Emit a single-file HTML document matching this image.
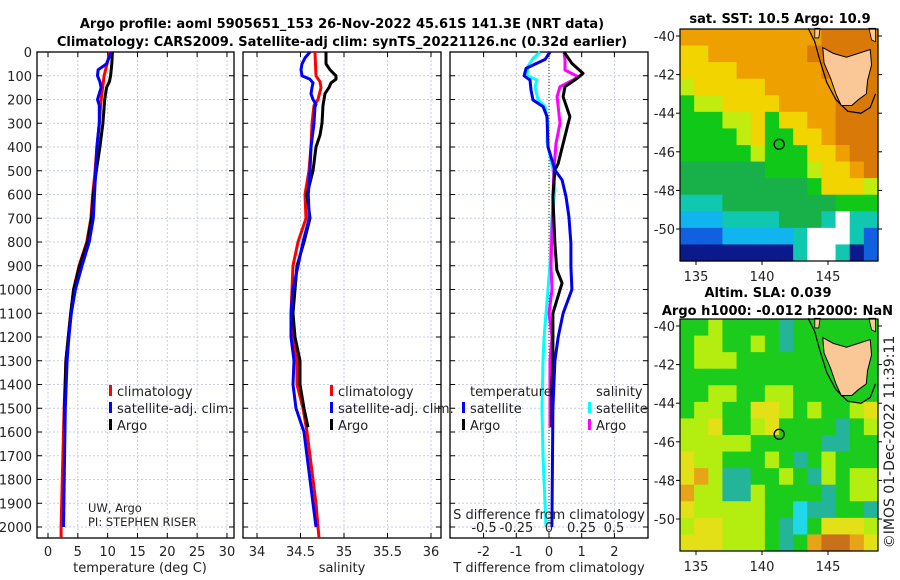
<!DOCTYPE html>
<html><head><meta charset="utf-8"><style>
body{margin:0;background:#fff;}
svg{display:block;font-family:"DejaVu Sans","Liberation Sans",sans-serif;}
.t{font-size:13px;fill:#222;}
.b{font-weight:bold;font-size:13px;fill:#000;}
</style></head><body>
<svg id="s" width="900" height="580" viewBox="0 0 900 580" xmlns="http://www.w3.org/2000/svg">
<text class="b" x="342" y="28" text-anchor="middle">Argo profile: aoml 5905651_153 26-Nov-2022 45.61S 141.3E (NRT data)</text>
<text class="b" x="342" y="46" text-anchor="middle">Climatology: CARS2009. Satellite-adj clim: synTS_20221126.nc (0.32d earlier)</text>
<g id="maps"></g>
<g id="panels"></g>
</svg>
<script>
// ---- temperature panel data ----
const tClimDepth=[0,100,200,300,400,500,600,700,800,900,1000,1100,1200,1300,1400,1500,1600,2000,2046];
const tClimVal=[10.4,9.4,8.9,8.6,8.2,7.9,7.5,7.2,6.5,5.2,4.3,3.8,3.4,3.0,2.85,2.7,2.6,2.2,2.2];
const tSatDepth=[0,50,75,100,125,150,200,225,300,400,500,600,700,800,900,1000,1100,1200,1300,1500,2000];
const tSatVal=[10.6,9.8,8.4,8.3,8.7,8.9,8.3,8.6,8.6,8.2,8.0,7.8,7.6,6.9,5.7,4.6,3.9,3.5,3.2,2.9,2.6];
const tArgoDepth=[0,50,100,125,150,200,300,400,500,600,700,800,900,1000,1100,1200,1300,1400,1500,1580];
const tArgoVal=[10.8,10.7,10.5,10.3,9.8,9.5,9.2,8.7,8.1,7.6,7.3,6.6,5.3,4.3,3.8,3.4,3.0,2.9,2.8,2.75];
// ---- salinity panel data ----
const sClimDepth=[0,100,125,150,200,225,300,400,500,600,700,800,900,1000,1100,1200,1300,1400,1500,1600,1700,1800,1900,2000,2046];
const sClimVal=[34.667,34.678,34.724,34.736,34.701,34.655,34.632,34.621,34.598,34.552,34.563,34.471,34.414,34.402,34.391,34.414,34.46,34.46,34.529,34.575,34.609,34.644,34.678,34.701,34.713];
const sSatDepth=[0,25,50,75,100,115,130,150,175,200,220,230,300,400,500,600,700,800,900,1000,1100,1200,1300,1400,1500,1600,1700,1800,1900,2000];
const sSatVal=[34.609,34.552,34.517,34.506,34.517,34.609,34.644,34.632,34.621,34.644,34.678,34.667,34.655,34.621,34.609,34.59,34.6,34.529,34.471,34.414,34.391,34.391,34.425,34.414,34.448,34.54,34.575,34.609,34.644,34.678];
const sArgoDepth=[0,50,75,100,115,130,150,175,200,225,300,350,400,500,600,700,800,900,1000,1100,1200,1300,1400,1500,1580];
const sArgoVal=[34.793,34.793,34.839,34.908,34.908,34.851,34.828,34.782,34.77,34.759,34.747,34.724,34.678,34.644,34.575,34.609,34.54,34.46,34.437,34.414,34.437,34.494,34.494,34.54,34.586];
// ---- difference panel data ----
const dTSatDepth=[0,31,69,100,118,160,202,230,272,399,497,539,609,693,806,900,1000,1100,1200,1300,1500,2000];
const dTSatVal=[0.03,-0.12,-0.7,-0.76,-0.58,-0.55,-0.49,-0.18,-0.06,-0.03,0.18,0.4,0.52,0.61,0.67,0.67,0.7,0.43,0.28,0.18,0.12,0.09];
const dTArgoDepth=[0,48,90,111,146,188,272,371,469,497,609,806,918,973,1000,1100,1200,1300,1400,1580];
const dTArgoVal=[0.46,0.7,1.04,0.86,0.49,0.43,0.64,0.46,0.28,0.18,0.12,0.18,0.24,0.4,0.34,0.12,0.12,0.12,0.09,0.09];
const dSSatDepth=[0,27,62,100,118,146,202,230,300,378,497,581,693,890,1000,1100,1200,1300,1500,1700,2000];
const dSSatVal=[-0.069,-0.123,-0.162,-0.169,-0.092,-0.108,-0.085,-0.031,-0.008,-0.015,0.031,0.046,0.023,0.008,-0.008,-0.023,-0.038,-0.046,-0.054,-0.046,-0.023];
const dSArgoDepth=[0,34,76,104,118,146,188,300,385,497,609,750,900,1000,1100,1200,1300,1580];
const dSArgoVal=[0.115,0.123,0.123,0.223,0.185,0.085,0.062,0.085,0.054,0.038,0.031,0.023,0.015,0.023,0.0,0.023,0.008,0.008];
// ---- axis tick labels ----
const depthTicks=[0,100,200,300,400,500,600,700,800,900,1000,1100,1200,1300,1400,1500,1600,1700,1800,1900,2000];
const tempTicks=[0,5,10,15,20,25,30];
const salTicks=[34,34.5,35,35.5,36];
const salTickLabels=["34","34.5","35","35.5","36"];
const dTTicks=[-2,-1,0,1,2];
const dSTicks=[-0.5,-0.25,0,0.25,0.5];
const dSTickLabels=["-0.5","-0.25","0","0.25","0.5"];
const latTicks=[-40,-42,-44,-46,-48,-50];
const lonTicks=[135,140,145];
const sstGrid=["ooooooooooOOOO","YYoooooooOOOOO","YYYYooooooOOOO","yYYYYYoooooOOO","GyyYYYYooooOOO","GGGyyYGYYooOOO","GGGGyYGGYYoOOO","GGGGGyGGGYYoOO","ggggggGGGyYYoO","gggggggggGYYYy","TTTggggggggGGG","CCCTTTTgggTWTT","BBBCCCCCTWWWTB","NNNNNNNNTWWTNB"];
const slaGrid=["GGyGGGGTGGGGGG","GyyGGyGTGGGGGG","GyyyGGGGGGGGGG","GGGGGGGGGGGGGG","GGyyGGyyGGGGGG","GyyGGYYyGyGGyY","yyYGGyYGGGGTGy","yyyyyGGGGGTTGG","YyyGGGyGTGyGGG","YOyTTGGyGTyGyy","OyyTTyGGGGTGyy","YyyyyyGGCTTGGT","yYYyyyGTCGYYYy","YYYyyyGTGODDOY"];

const NS="http://www.w3.org/2000/svg";
function mk(tag,attrs,parent,text){const e=document.createElementNS(NS,tag);for(const k in attrs)e.setAttribute(k,attrs[k]);if(text!==undefined)e.textContent=text;parent.appendChild(e);return e;}
const P=document.getElementById('panels');
const top0=52,bot=538;
const yD=d=>top0+d*0.2375;
const xT=v=>48+v*5.965;
const xS=v=>257+(v-34)*87;
const xDT=v=>549+v*32.7;
const xDS=v=>549+v*130;

function panel(x0,x1,name,vgrid){
  const g=mk('g',{},P);
  
  
  depthTicks.forEach(d=>{const y=yD(d);mk('line',{x1:x0,x2:x1,y1:y,y2:y,stroke:'#c8cde8','stroke-width':1,'stroke-dasharray':'2,2'},g);
    mk('line',{x1:x0,x2:x0+5,y1:y,y2:y,stroke:'#000'},g);mk('line',{x1:x1-5,x2:x1,y1:y,y2:y,stroke:'#000'},g);});
  vgrid.forEach(x=>{mk('line',{x1:x,x2:x,y1:top0,y2:bot,stroke:'#c8cde8','stroke-width':1,'stroke-dasharray':'2,2'},g);
    mk('line',{x1:x,x2:x,y1:bot-5,y2:bot,stroke:'#000'},g);mk('line',{x1:x,x2:x,y1:top0,y2:top0+5,stroke:'#000'},g);});
  mk('rect',{x:x0,y:top0,width:x1-x0,height:bot-top0,fill:'none',stroke:'#000','stroke-width':1.3},g);
  return g;
}
function series(g,ds,vs,xf,color,name){
  const pts=ds.map((d,i)=>xf(vs[i]).toFixed(1)+','+yD(d).toFixed(1)).join(' ');
  const e=mk('polyline',{points:pts,fill:'none',stroke:color,'stroke-width':3,'stroke-linejoin':'round'},g);
  
  
}
depthTicks.forEach(d=>{const e=mk('text',{x:32,y:yD(d)+5,'text-anchor':'end',class:'t'},P,String(d));
  
  });
const g1=panel(37,234,'temperature-panel',tempTicks.map(xT));
series(g1,tClimDepth,tClimVal,xT,'#ff0000','temp-climatology-line');
series(g1,tArgoDepth,tArgoVal,xT,'#000000','temp-argo-line');
series(g1,tSatDepth,tSatVal,xT,'#0000ff','temp-satellite-line');
tempTicks.forEach(v=>{const e=mk('text',{x:xT(v),y:556,'text-anchor':'middle',class:'t'},P,String(v));
  
  });
const g2=panel(243,441,'salinity-panel',salTicks.map(xS));
series(g2,sClimDepth,sClimVal,xS,'#ff0000','sal-climatology-line');
series(g2,sArgoDepth,sArgoVal,xS,'#000000','sal-argo-line');
series(g2,sSatDepth,sSatVal,xS,'#0000ff','sal-satellite-line');
salTicks.forEach((v,i)=>{const e=mk('text',{x:xS(v),y:556,'text-anchor':'middle',class:'t'},P,salTickLabels[i]);
  
  });
const g3=panel(450,648,'difference-panel',dTTicks.map(xDT));
mk('line',{x1:xDT(0),x2:xDT(0),y1:top0,y2:bot,stroke:'#555533','stroke-width':1.2,'stroke-dasharray':'1,2'},g3);
series(g3,dSSatDepth,dSSatVal,xDS,'#00ffff','sdiff-satellite-line');
series(g3,dSArgoDepth,dSArgoVal,xDS,'#ff00ff','sdiff-argo-line');
series(g3,dTArgoDepth,dTArgoVal,xDT,'#000000','tdiff-argo-line');
series(g3,dTSatDepth,dTSatVal,xDT,'#0000ee','tdiff-satellite-line');
dTTicks.forEach(v=>{const e=mk('text',{x:xDT(v),y:556,'text-anchor':'middle',class:'t'},P,String(v));
  
  });
dSTicks.forEach((v,i)=>{const e=mk('text',{x:xDS(v),y:532,'text-anchor':'middle',class:'t'},P,dSTickLabels[i]);
  
  });

const M=document.getElementById('maps');
const sstCol={o:'#eea000',O:'#d97a08',Y:'#f2d400',y:'#c0ec10',G:'#10c818',g:'#18b048',T:'#10c8b0',C:'#10b4ee',B:'#1060e0',N:'#0a1a8c',W:'#ffffff'};
const slaCol={G:'#1ccc1c',y:'#b4ee10',Y:'#e4e018',O:'#e8a418',D:'#c8701a',T:'#24b49a',C:'#20d8e8'};
function drawMap(top,grid,cols,name){
  const x0=680,x1=878,y0=top,y1=top+232;
  const lx=lon=>696+(lon-135)*13.2;
  const ly=lat=>(top+7)+(-40-lat)*19.3;
  const g=mk('g',{},M);
  
  
  const cw=(x1-x0)/14,ch=(y1-y0)/14;
  grid.forEach((row,r)=>{for(let c=0;c<14;c++)mk('rect',{x:(x0+c*cw).toFixed(2),y:(y0+r*ch).toFixed(2),width:(cw+0.6).toFixed(2),height:(ch+0.6).toFixed(2),fill:cols[row[c]]},g);});
  const shelf=[[143.5,-39.6],[144.0,-40.3],[144.4,-41.3],[144.9,-42.4],[145.6,-43.3],[146.5,-43.9],[147.5,-44.0],[148.2,-43.7],[148.6,-43.0]];
  mk('polyline',{points:shelf.map(p=>lx(p[0])+','+ly(p[1])).join(' '),fill:'none',stroke:'#000','stroke-width':1.2},g);
  const tas=[[144.6,-40.6],[145.4,-40.9],[146.4,-41.1],[147.3,-40.9],[148.2,-40.7],[148.3,-41.5],[148.0,-42.3],[147.9,-43.0],[147.3,-43.3],[146.8,-43.6],[146.0,-43.6],[145.6,-43.0],[145.2,-42.2],[144.7,-41.4]];
  const land=mk('polygon',{points:tas.map(p=>lx(p[0])+','+ly(p[1])).join(' '),fill:'#fac896',stroke:'#000','stroke-width':1},g);
  
  
  mk('polygon',{points:[[144.0,-39.6],[144.4,-39.6],[144.3,-40.1],[144.0,-40.1]].map(p=>lx(p[0])+','+ly(p[1])).join(' '),fill:'#fac896',stroke:'#000','stroke-width':0.8},g);
  mk('polygon',{points:[[148.1,-39.6],[148.6,-39.6],[148.6,-40.3],[148.3,-40.2]].map(p=>lx(p[0])+','+ly(p[1])).join(' '),fill:'#fac896',stroke:'#000','stroke-width':0.8},g);
  const m=mk('circle',{cx:lx(141.3),cy:ly(-45.61),r:5,fill:'none',stroke:'#000','stroke-width':1.3},g);
  
  
  mk('rect',{x:x0,y:y0,width:x1-x0,height:y1-y0,fill:'none',stroke:'#000','stroke-width':1.2},g);
  latTicks.forEach(v=>{const y=ly(v);mk('line',{x1:x0-4,x2:x0,y1:y,y2:y,stroke:'#000'},g);mk('line',{x1:x1,x2:x1+4,y1:y,y2:y,stroke:'#000'},g);
    const e=mk('text',{x:675,y:y+5,'text-anchor':'end',class:'t'},g,String(v));
    
    });
  lonTicks.forEach(v=>{const x=lx(v);mk('line',{x1:x,x2:x,y1:y1,y2:y1+4,stroke:'#000'},g);
    const e=mk('text',{x:x,y:y1+20,'text-anchor':'middle',class:'t'},g,String(v));
    
    });
}
drawMap(29,sstGrid,sstCol,'sst-map');
drawMap(319,slaGrid,slaCol,'sla-map');
</script>
<script>
(function(){
const s=document.getElementById('s');
const NS="http://www.w3.org/2000/svg";
function t(x,y,str,cls,anchor,name,extra){const e=document.createElementNS(NS,'text');e.setAttribute('x',x);e.setAttribute('y',y);e.setAttribute('class',cls);e.setAttribute('text-anchor',anchor);if(extra)e.setAttribute('transform',extra);e.textContent=str;


s.appendChild(e);return e;}
function bar(x,y,c){const r=document.createElementNS(NS,'rect');r.setAttribute('x',x);r.setAttribute('y',y);r.setAttribute('width',3);r.setAttribute('height',11);r.setAttribute('fill',c);


s.appendChild(r);}
t(780,23,'sat. SST: 10.5 Argo: 10.9','b','middle','sst-map-title');
t(768,297,'Altim. SLA: 0.039','b','middle','sla-map-title');
t(893,315,'Argo h1000: -0.012 h2000: NaN','b','end','argo-height-title');
t(140,572,'temperature (deg C)','t','middle','temp-axis-title');
t(342,572,'salinity','t','middle','sal-axis-title');
t(549,572,'T difference from climatology','t','middle','tdiff-axis-title');
t(549,519,'S difference from climatology','t','middle','sdiff-axis-title');
[['climatology','#f00',396],['satellite-adj. clim.','#00f',413],['Argo','#000',430]].forEach(a=>{bar(109,a[2]-11,a[1]);t(117,a[2],a[0],'t','start','legend-entry');bar(330,a[2]-11,a[1]);t(338,a[2],a[0],'t','start','legend-entry');});
t(470,396,'temperature','t','start','legend-heading-temperature');
bar(462,402,'#00f');t(470,413,'satellite','t','start','legend-entry');
bar(462,419,'#000');t(470,430,'Argo','t','start','legend-entry');
t(596,396,'salinity','t','start','legend-heading-salinity');
bar(588,402,'#0ff');t(596,413,'satellite','t','start','legend-entry');
bar(588,419,'#f0f');t(596,430,'Argo','t','start','legend-entry');
const a=t(88,512,'UW, Argo','t','start','source-label');a.style.fontSize='11.5px';
const b=t(88,526,'PI: STEPHEN RISER','t','start','pi-label');b.style.fontSize='11.5px';
const c=t(0,0,'©IMOS 01-Dec-2022 11:39:11','t','middle','imos-timestamp',"translate(894,442) rotate(-90)");c.style.fontSize='14px';
})();
</script>
</body></html>
